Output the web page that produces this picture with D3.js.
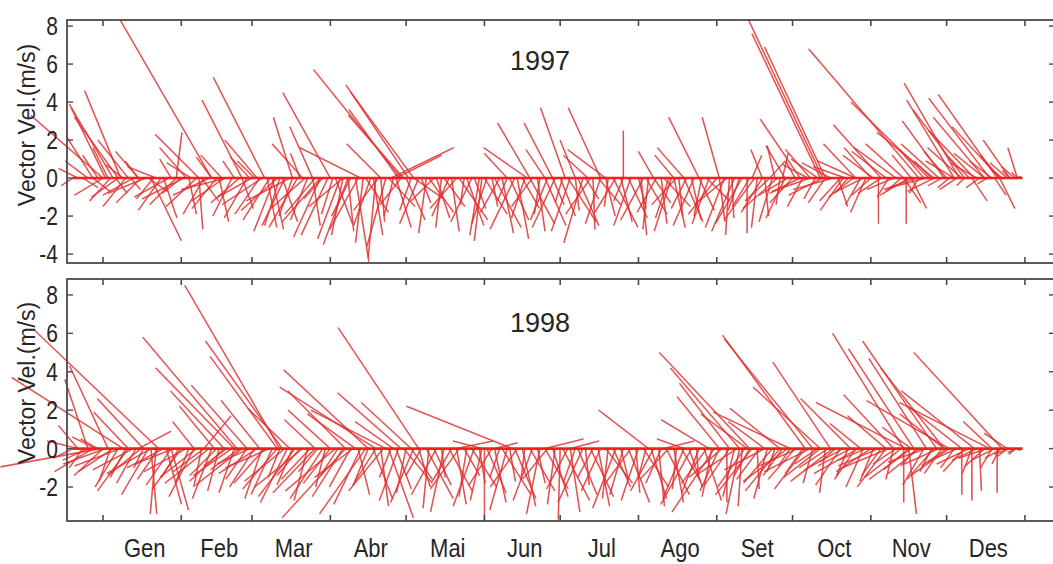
<!DOCTYPE html>
<html>
<head>
<meta charset="utf-8">
<script src="https://cdn.jsdelivr.net/npm/d3@7"></script>
<style>
body { margin: 0; background: #fff; }
svg { display: block; }
text { font-family: "Liberation Sans", Arial, sans-serif; fill: #262626; }
</style>
</head>
<body>
<svg id="chart" width="1053" height="564"></svg>
<script>
/* **************************************************************************
 * Stick plot of the wind velocity vector, 1997 and 1998.
 * Each stick is [day of year, u (m/s), v (m/s)], drawn from (day, 0).
 * **************************************************************************/

var monthNames = ["Gen", "Feb", "Mar", "Abr", "Mai", "Jun", "Jul", "Ago", "Set", "Oct", "Nov", "Des"];
var monthStarts = [0, 31, 59, 90, 120, 151, 181, 212, 243, 273, 304, 334, 365];

var yTicks1997 = [8, 6, 4, 2, 0, -2, -4];
var yTicks1998 = [8, 6, 4, 2, 0, -2];

// the strong events of 1997 (long sticks)
var gusts1997 = [
	[0,-3.8,3.3],[1,-1.9,3.9],[4,-2.2,3.7],[6,-2.3,3.2],[7,-1.9,4.6],[-4,-1.4,2.2],[10,-1.6,2.0],[14,-1.2,1.4],
	[29,0.3,2.4],[38,-2.3,2.3],[43,-4.8,8.3],[33,-1.4,1.6],[47,-1.1,1.2],
	[55,-2.1,4.1],[64,-2.7,5.3],[58,-1.0,1.1],[61,-1.7,2.0],
	[75,-1.0,3.2],[83,-1.2,2.7],[90,-2.5,4.5],[79,-1.6,1.8],[102,-3.2,1.6],
	[118,-4.6,5.7],[121,-3.3,4.9],[123,-3.3,4.5],[117,-2.6,3.6],[119,-2.9,3.3],[114,3.3,1.6],[116,2.4,1.2],[110,-1.8,1.8],
	[100,0.7,-4.4],[108,-0.4,-4.2],[112,-1.0,-3.6],[97,-1.3,-3.5],[19,1.6,-3.3],[38,0.2,-2.7],[67,0.6,-2.7],[70,-0.8,-2.5],[86,-1.4,-3.1],[95,-0.6,-3.0],
	[169,-1.7,2.9],[178,-1.5,2.9],[183,-1.3,3.7],[197,-1.7,3.7],[187,-0.8,2.0],[206,0.0,2.5],[168,-2.3,1.6],[160,-1.2,1.3],[175,-1.0,1.5],[199,-2.0,1.5],[192,-1.3,1.2],[226,-1.0,1.2],[230,-1.4,1.6],
	[236,-1.6,3.2],[244,-0.9,3.2],[218,-0.8,1.4],
	[285,-3.9,8.3],[284,-3.6,7.6],[286,-3.2,6.9],[276,-2.1,3.1],[270,-1.0,1.7],[280,-1.3,1.5],
	[323,-5.8,6.8],[308,-2.5,2.8],[327,-4.1,4.0],[339,-2.9,5.0],[337,-2.5,4.1],[351,-3.2,4.2],[354,-3.1,4.4],[341,-2.7,3.6],[349,-2.7,3.2],[355,-2.5,2.7],[359,-1.4,2.0],[362,-0.5,1.6],[329,-3.0,2.4],[317,-2.0,1.8],[304,-1.4,1.6],[298,-1.7,1.8],[345,-2.4,2.5],[333,-2.2,3.0],
	[318,0.0,-2.4],[320,0.8,-1.6],[302,-0.8,-1.8],[355,0.8,-1.6],[293,-1.2,-1.7],
	[150,-0.4,-3.3],[164,0.6,-3.2],[190,-1.0,-3.4],[213,0.3,-3.0],[225,-0.9,-2.8],[248,-0.2,-3.0]
];

// the day to day sticks of 1997 (short ones around zero)
var fringe1997 = [
	[-12,-0.6,-0.4],[-10,-1.0,0.5],[-8,0.8,-0.5],[-6,-1.2,0.9],[-4,0.9,-0.7],[-2,-0.8,1.2],
	[0,-1.5,-0.9],[2,-0.8,1.6],[3,-1.1,-1.2],[5,0.6,-0.8],[6,-1.4,-1.0],[8,-0.9,0.7],[9,-1.2,-1.5],[11,0.5,-0.6],[12,-1.6,-0.9],[14,-0.7,0.9],[15,-1.3,-1.3],[17,-2.0,-0.8],[18,1.0,-0.7],[20,-0.9,-1.1],[21,-1.5,0.6],[23,-1.2,-1.7],[24,0.7,-2.1],[26,-1.8,-1.0],[27,-0.6,1.0],[29,-1.4,-1.4],
	[31,-1.0,-0.8],[32,-2.2,-1.1],[34,0.4,-1.9],[35,-1.3,0.8],[37,-1.6,-1.5],[39,0.9,-1.2],[40,-1.1,-1.9],[42,-1.9,-0.9],[43,-0.8,1.1],[45,-1.3,-1.6],[46,0.5,-2.3],[48,-1.7,-1.2],[49,-2.4,-0.6],[51,-1.0,-2.0],[52,-0.6,0.9],[54,-1.5,-1.3],[55,0.6,-1.6],[57,-1.2,-2.1],
	[59,-1.8,-1.0],[60,-0.9,0.9],[62,-1.3,-1.9],[63,-2.1,-1.4],[65,0.5,-2.6],[66,-1.4,-2.2],[68,-1.1,-2.8],[69,-1.9,-1.7],[71,0.8,-2.3],[72,-1.2,-2.5],[74,-2.3,-1.2],[75,-0.7,-2.0],[77,-1.5,-2.6],[78,-0.5,1.3],[80,-1.8,-1.6],[81,-0.9,-2.2],[83,0.4,-2.5],[84,-1.6,-1.9],[86,-2.0,-2.3],[87,-1.0,-1.1],[89,-1.4,-3.0],
	[91,-0.6,-1.9],[92,0.9,-2.4],[94,-1.2,-3.2],[95,-1.8,-1.5],[97,0.3,-2.8],[98,-1.0,-2.0],[101,-1.5,-2.7],[103,-0.4,-3.4],[104,1.2,-1.8],[106,-0.9,-2.5],[107,0.5,-3.0],[109,-1.3,-1.7],[110,0.2,-2.3],[113,1.4,-1.5],[115,-0.5,-2.0],[116,0.8,-2.6],[118,-1.1,-1.4],
	[120,1.0,-2.2],[122,-0.6,-1.7],[123,1.6,-1.1],[125,-1.0,-2.4],[126,0.5,-1.3],[128,-0.4,-2.9],[129,1.3,-1.8],[131,-1.2,-1.2],[132,0.7,-2.1],[134,-0.3,-2.6],[135,1.1,-1.5],[137,-0.9,-2.0],[138,0.4,-2.8],[140,-1.4,-1.6],[141,1.5,-2.2],[143,-0.2,-1.4],[144,0.9,-2.5],[146,-1.1,-2.3],[147,0.6,-1.6],[149,-0.5,-3.0],
	[151,1.2,-1.9],[152,-0.8,-2.4],[154,0.3,-1.5],[155,1.4,-2.6],[157,-1.0,-1.8],[158,0.6,-2.9],[160,-0.5,-1.2],[161,1.0,-2.2],[163,-1.3,-2.7],[166,0.9,-1.6],[167,-0.7,-2.1],[169,1.3,-2.4],[170,-1.1,-1.5],[172,0.4,-2.8],[173,-0.3,-1.9],[175,1.1,-2.5],[176,-0.9,-2.2],[178,0.6,-1.4],[179,-1.2,-2.6],
	[181,0.8,-2.0],[182,-0.4,-1.3],[184,1.5,-2.3],[185,-1.0,-2.8],[187,0.2,-1.7],[188,1.1,-2.5],[191,0.7,-1.1],[193,-1.3,-1.9],[194,0.1,-2.7],[196,1.2,-1.4],[197,-0.8,-2.4],[199,0.5,-2.0],[200,-0.2,-1.5],[202,1.3,-2.6],[203,-1.1,-1.8],[205,0.6,-2.3],[206,-0.5,-1.2],[208,1.0,-2.1],[209,-0.9,-2.5],
	[212,0.4,-1.6],[214,-1.2,-2.2],[215,1.1,-1.9],[216,-0.3,-2.7],[218,0.9,-1.3],[219,-1.0,-1.8],[221,0.3,-2.4],[222,1.4,-1.5],[224,-0.7,-2.1],[226,0.6,-2.6],[227,-1.3,-1.4],[228,0.2,-2.0],[230,1.0,-2.3],[231,-0.8,-1.6],[233,0.5,-2.2],[234,-1.1,-2.5],[236,0.8,-1.7],[237,-0.4,-2.0],[239,1.2,-1.2],[240,-0.9,-2.4],
	[243,-1.5,-1.9],[244,0.3,-2.3],[246,-1.0,-2.6],[247,-1.7,-1.4],[249,0.1,-2.1],[250,-1.2,-2.8],[252,-0.6,-1.7],[253,-1.4,-2.4],[255,0.0,-2.9],[256,-0.9,-1.5],[258,-1.6,-2.2],[259,-0.3,-2.6],[261,-1.1,-1.8],[262,0.2,-2.0],[264,-1.3,-1.2],[265,-0.7,-2.3],[267,-1.8,-1.6],[268,-0.2,-1.4],[270,-1.0,-2.1],[271,-1.5,-0.9],
	[257,0.5,1.2],[261,-0.6,1.5],[264,0.8,0.9],[266,-0.4,1.7],[269,0.3,1.3],
	[273,-1.2,-1.3],[274,-0.5,0.9],[276,-1.6,-0.8],[277,-0.8,-1.5],[279,-1.3,0.7],[280,-2.0,-0.7],[282,-0.6,-1.1],[283,-1.4,1.0],[285,-1.8,-0.9],[286,-0.9,-1.3],[288,-1.5,0.8],[289,-2.1,-0.6],[291,0.5,-1.5],[292,-1.1,-1.2],[294,-1.7,0.6],[295,-0.7,-0.8],[297,-1.3,-1.0],[298,-2.0,0.9],[300,-0.8,-1.4],[301,-1.4,-0.7],
	[304,-1.0,-0.9],[305,-1.6,1.2],[307,0.0,-2.4],[308,-1.2,-0.8],[310,-1.8,1.4],[311,-0.6,-1.0],[313,-1.4,-0.6],[314,-2.2,1.6],[316,-0.8,-0.7],[317,0.9,-1.3],[319,-1.5,-0.9],[320,-1.0,1.2],[322,-1.7,-0.6],[323,-0.5,-0.8],[325,-1.3,1.5],[326,-1.9,-0.5],[328,-0.9,0.9],[329,-1.4,-0.7],[331,-2.0,1.8],[332,-0.7,-0.4],
	[334,-1.2,1.4],[335,-0.6,-0.5],[337,-1.5,0.9],[338,-0.9,-0.6],[340,-1.8,1.6],[341,-0.4,-0.4],[343,-1.1,1.1],[344,0.8,-1.2],[346,-1.4,0.8],[347,-0.7,-0.5],[349,-1.6,1.3],[350,-0.5,-0.3],[352,-1.2,0.9],[353,0.6,-0.9],[355,-1.0,1.2],[356,-0.6,0.5],[358,-0.9,0.8],[359,-0.4,0.4],[361,-0.7,0.6],[362,-0.3,0.3],[364,-0.2,0.1]
];

// the strong events of 1998
var gusts1998 = [
	[22,-6.5,6.2],[8,-5.8,3.7],[-6,-1.2,3.6],[2,-2.0,4.3],[10,-1.8,1.9],[-1,-5.2,-0.95],[16,-2.4,2.6],[-10,-1.0,1.2],
	[53,-4.9,5.8],[52,-4.1,4.2],[57,-2.9,3.3],[48,-2.8,3.0],[40,1.4,1.7],[36,-1.1,1.4],[44,-1.8,2.2],
	[70,-4.95,8.5],[71,-4.0,5.6],[69,-3.5,4.8],[62,-2.0,2.5],[74,-2.2,2.1],
	[105,-4.4,4.1],[108,-5.0,3.2],[118,-3.3,2.9],[125,-4.2,6.3],[122,-2.6,2.4],[112,-3.9,2.0],[96,-3.0,3.0],[90,-2.2,2.0],[84,-1.6,1.5],[100,-2.5,1.8],[115,-2.0,1.4],
	[162,-5.5,2.2],[150,-1.5,0.4],[140,1.9,0.4],[155,1.2,0.3],[175,2.0,0.5],[185,1.5,0.4],[216,-2.6,2.0],[222,1.6,0.4],[230,-1.4,0.5],
	[256,-4.7,5.0],[252,-3.6,4.2],[248,-2.6,3.4],[244,-2.2,2.7],[240,-2.5,1.5],[262,-1.9,1.4],
	[281,-4.6,5.7],[278,-4.3,5.9],[288,-3.0,4.5],[272,-4.0,1.9],[284,-3.5,3.2],[296,-2.6,2.6],[300,-1.6,1.3],[310,-2.0,1.7],
	[317,-3.7,6.0],[330,-3.85,5.6],[321,-3.4,5.2],[326,-3.0,4.7],[333,-3.3,4.2],[318,-4.7,2.4],[335,-4.3,2.5],[351,-4.7,2.4],[356,-4.6,5.0],[345,-3.8,3.0],[340,-2.8,2.2],[313,-2.6,2.8],[320,-1.5,1.1],[358,-1.2,0.8],[352,-1.5,1.4],
	[19,0.3,-3.4],[27,0.9,-3.2],[96,-3.3,-3.6],[104,-2.4,-3.4],[113,1.3,-3.6],[242,-2.2,-3.3],[252,-0.7,-3.4],[319,0.4,-3.4],[344,0.0,-2.7],[354,0.0,-2.3]
];

// the day to day sticks of 1998
var fringe1998 = [
	[-12,-1.0,-0.5],[-10,-1.6,0.4],[-8,-0.7,-1.0],[-6,-1.3,-0.6],[-4,-2.0,-1.2],[-2,-0.9,0.5],[-3,-1.2,0.6],
	[0,-1.5,-1.4],[1,-2.2,-0.8],[3,-0.6,-1.7],[4,-1.8,-1.2],[6,-1.2,-2.0],[7,-2.4,-0.9],[9,-0.8,-1.5],[10,-1.6,-2.2],[12,-2.1,-1.1],[13,-1.0,-1.8],[14,1.7,0.9],[15,-1.7,-1.4],[16,-0.5,-1.0],[18,-1.4,-2.4],[19,-2.3,-1.3],[21,-0.3,-3.4],[22,-1.1,-1.6],[24,-1.9,-1.0],[25,0.8,-2.9],[27,-1.3,-1.9],[28,-2.0,-0.8],[30,-0.9,-1.5],
	[31,-1.5,-2.1],[33,-2.2,-1.2],[34,-0.7,-1.8],[36,-1.3,-2.5],[37,-1.9,-1.5],[39,-0.4,-2.0],[40,-1.6,-1.2],[42,-2.3,-1.8],[43,-1.0,-2.6],[45,-1.4,-1.4],[46,-0.6,-2.2],[48,-1.8,-1.7],[49,-1.2,-0.9],[51,-2.0,-1.4],[52,-0.8,-2.3],[54,-1.5,-1.1],[55,-2.4,-1.9],[57,-1.1,-1.6],[58,-1.7,-0.8],
	[60,-1.3,-2.0],[61,-2.0,-1.3],[63,-0.9,-2.6],[64,-1.6,-1.8],[66,-2.3,-1.0],[67,-1.1,-2.4],[69,-1.8,-2.1],[70,-0.6,-1.5],[72,-2.1,-1.7],[73,-1.4,-2.8],[75,-0.8,-1.9],[76,-1.9,-2.5],[78,-1.2,-1.4],[79,-2.5,-2.0],[81,-0.7,-2.7],[82,-1.5,-1.6],[84,-2.2,-2.3],[85,-1.0,-1.2],[87,-1.7,-2.6],[88,-0.5,-2.0],
	[90,-1.4,-1.8],[92,-2.6,-2.2],[93,-0.9,-1.4],[95,-1.6,-2.5],[98,-1.1,-2.0],[99,-2.0,-1.5],[101,0.6,-2.4],[102,-1.4,-2.9],[105,-0.7,-1.7],[107,1.0,-2.6],[108,-1.2,-1.9],[110,0.4,-3.0],[111,-1.8,-2.2],[114,-0.6,-1.5],[116,0.8,-2.1],[117,-1.0,-2.7],[119,1.5,-1.8],
	[120,-0.5,-2.3],[122,1.1,-1.6],[123,-1.2,-2.8],[125,0.6,-2.0],[126,-0.8,-1.4],[128,1.4,-2.6],[129,-0.3,-3.1],[131,0.9,-1.9],[132,-1.3,-2.4],[134,0.2,-1.5],[135,-0.7,-3.3],[137,1.2,-2.2],[138,-1.0,-1.7],[140,0.5,-2.9],[141,-1.5,-2.1],[143,0.8,-1.4],[144,-0.4,-2.5],[146,1.3,-2.0],[147,-1.1,-3.0],[149,0.3,-1.8],[150,-0.6,-2.7],
	[151,0.0,-3.8],[152,1.0,-2.3],[154,-1.2,-1.9],[155,0.6,-2.8],[157,-0.5,-1.5],[158,1.5,-2.4],[160,-0.9,-3.2],[161,0.3,-1.7],[163,1.1,-2.6],[164,-1.4,-2.0],[166,0.7,-3.0],[167,-0.2,-1.6],[169,1.3,-2.2],[170,-1.0,-2.7],[172,0.4,-1.8],[173,-0.7,-3.4],[175,1.2,-2.1],[176,-1.3,-1.6],[178,0.8,-2.5],[179,-0.4,-2.9],
	[181,-0.1,-3.7],[182,1.4,-2.7],[184,-1.1,-2.1],[185,0.5,-3.3],[187,-0.6,-1.7],[188,1.0,-2.4],[190,-1.3,-2.8],[191,0.2,-1.9],[193,1.2,-2.5],[194,-0.8,-1.5],[196,0.6,-3.0],[197,-1.0,-2.2],[199,1.4,-1.8],[200,-0.3,-2.6],[202,0.9,-2.0],[203,-1.2,-3.1],[205,0.4,-1.6],[206,-0.7,-2.4],[208,1.1,-2.8],[209,-1.4,-1.9],[211,0.2,-2.3],
	[212,-0.9,-2.7],[214,1.3,-2.0],[215,-0.4,-1.5],[217,0.8,-2.6],[218,-1.2,-2.2],[220,0.3,-3.0],[221,-0.8,-1.8],[223,1.2,-2.4],[224,-1.5,-1.6],[226,0.5,-2.8],[227,-0.2,-2.1],[229,1.0,-1.7],[230,-1.1,-2.6],[232,0.7,-2.0],[233,-1.6,-2.9],[235,0.1,-1.5],[236,-0.9,-2.3],[238,0.9,-2.7],[239,-1.3,-1.8],[241,-0.5,-2.5],
	[244,-1.0,-2.2],[245,-1.7,-1.5],[247,0.0,-2.8],[248,-1.3,-1.9],[250,-0.6,-2.5],[251,-2.0,-1.3],[253,-0.2,-3.0],[254,-1.4,-2.0],[256,-0.8,-1.4],[257,-1.9,-2.4],[259,0.1,-2.1],[260,-1.2,-1.6],[262,-2.1,-1.1],[263,-0.7,-2.6],[265,-1.5,-1.8],[266,-0.4,-1.2],[268,-1.8,-2.2],[269,-1.0,-1.4],[271,-2.3,-1.7],[272,-0.6,-0.9],
	[255,-2.4,1.8],[268,-2.6,2.1],
	[274,-1.4,-1.6],[275,-2.0,-0.9],[277,-0.9,-1.3],[278,-1.6,-2.1],[280,-2.4,-1.2],[281,-0.5,-1.8],[283,-1.2,-0.8],[284,-1.9,-1.5],[286,-0.3,-2.3],[287,-1.5,-1.0],[289,-2.2,-1.7],[290,-0.8,-0.7],[292,-1.3,-1.9],[293,-2.0,-1.1],[295,-0.6,-1.4],[296,-1.7,-0.9],[298,-1.1,-1.6],[299,-2.3,-1.3],[301,-0.9,-2.0],[302,-1.4,-0.6],
	[304,-1.8,-1.2],[305,-0.7,-1.7],[307,-2.1,-0.9],[308,-1.0,-1.4],[310,-1.5,-2.0],[311,-2.4,-1.0],[313,-0.4,-1.6],[314,-1.2,-0.8],[316,-1.9,-1.5],[317,0.0,-2.8],[319,-1.3,-1.1],[320,-2.2,-1.6],[322,-0.8,-0.9],[323,-1.6,-1.3],[325,-1.1,-1.9],[326,-2.0,-0.7],[328,-0.6,-1.2],[329,-1.4,-1.6],[331,-1.8,-0.8],[332,-0.9,-1.3],[333,-2.3,1.8],
	[334,-1.3,-0.9],[335,-2.0,-1.4],[337,-0.7,-1.0],[338,-1.5,-0.7],[340,0.0,-2.4],[341,-1.1,-1.2],[343,-1.7,-0.8],[344,-0.5,-1.3],[346,-1.3,-0.6],[347,0.1,-2.2],[349,-1.0,-0.9],[350,-1.5,-0.5],[352,-0.6,-1.0],[353,-1.2,-0.6],[355,-0.4,-0.8],[356,-0.9,-0.5],[358,-0.5,-0.4],[359,-0.8,-0.3],[361,-0.3,-0.3],[362,-0.5,-0.2],[364,-0.2,-0.1]
];

var svg = d3.select("#chart");

// time axis shared by both panels (day of year)
var xScale = d3.scaleLinear().domain([-14.25, 376.9]).range([67, 1055]);

var panels = [
	{ title: "1997", sticks: fringe1997.concat(gusts1997), ticks: yTicks1997,
	  top: 20, bottom: 263, vMin: -4.47, vMax: 8.32, labelY: 125, titleY: 70 },
	{ title: "1998", sticks: fringe1998.concat(gusts1998), ticks: yTicks1998,
	  top: 279, bottom: 521, vMin: -3.77, vMax: 8.83, labelY: 383, titleY: 332 }
];

/* **************************************************************************
 * drawPanel
 *
 * Draw one year of the stick plot: the sticks, the frame, the ticks and
 * the texts of that panel.
 ****************************************************************************/
function drawPanel(p)
{
	var yScale = d3.scaleLinear().domain([p.vMin, p.vMax]).range([p.bottom, p.top]);
	// u is drawn with the same pixels per m/s as v
	var k = yScale(0) - yScale(1);

	var g = svg.append("g");

	var days = p.sticks.map(function (d) { return d[0]; });
	g.append("line")
		.attr("x1", xScale(d3.min(days))).attr("x2", xScale(d3.max(days)))
		.attr("y1", yScale(0)).attr("y2", yScale(0))
		.attr("stroke", "#ff1e1e").attr("stroke-width", 2.6);

	// dark core first, then the red stroke over it
	g.selectAll("line.core").data(p.sticks).enter().append("line")
		.attr("class", "core")
		.attr("x1", function (d) { return xScale(d[0]); })
		.attr("y1", yScale(0))
		.attr("x2", function (d) { return xScale(d[0]) + d[1] * k; })
		.attr("y2", function (d) { return yScale(d[2]); })
		.attr("stroke", "#4d2020").attr("stroke-width", 0.8).attr("opacity", 0.6);

	g.selectAll("line.stick").data(p.sticks).enter().append("line")
		.attr("class", "stick")
		.attr("x1", function (d) { return xScale(d[0]); })
		.attr("y1", yScale(0))
		.attr("x2", function (d) { return xScale(d[0]) + d[1] * k; })
		.attr("y2", function (d) { return yScale(d[2]); })
		.attr("stroke", "#f52a2a").attr("stroke-width", 1.6).attr("opacity", 0.65);

	// frame
	g.append("rect")
		.attr("x", 67).attr("y", p.top)
		.attr("width", 1055 - 67).attr("height", p.bottom - p.top)
		.attr("fill", "none").attr("stroke", "#4a4a4a").attr("stroke-width", 1.8);

	// month ticks, inward on top and bottom
	monthStarts.forEach(function (m) {
		var xm = xScale(m);
		g.append("line").attr("x1", xm).attr("x2", xm).attr("y1", p.top).attr("y2", p.top + 6)
			.attr("stroke", "#4a4a4a").attr("stroke-width", 1.6);
		g.append("line").attr("x1", xm).attr("x2", xm).attr("y1", p.bottom).attr("y2", p.bottom - 6)
			.attr("stroke", "#4a4a4a").attr("stroke-width", 1.6);
	});

	// value ticks and labels
	p.ticks.forEach(function (t) {
		var yt = yScale(t);
		g.append("line").attr("x1", 67).attr("x2", 73).attr("y1", yt).attr("y2", yt)
			.attr("stroke", "#4a4a4a").attr("stroke-width", 1.4);
		g.append("line").attr("x1", 1055).attr("x2", 1049).attr("y1", yt).attr("y2", yt)
			.attr("stroke", "#4a4a4a").attr("stroke-width", 1.4);
		g.append("text")
			.attr("transform", "translate(58," + (yt + 9) + ") scale(1,1.2)")
			.attr("text-anchor", "end")
			.attr("font-size", 21)
			.text(t);
	});

	g.append("text")
		.attr("transform", "translate(35," + p.labelY + ") rotate(-90)")
		.attr("text-anchor", "middle")
		.attr("font-size", 23)
		.text("Vector Vel.(m/s)");

	g.append("text")
		.attr("x", 540).attr("y", p.titleY)
		.attr("text-anchor", "middle")
		.attr("font-size", 27)
		.text(p.title);
}

panels.forEach(drawPanel);

// month names under the lower panel
monthNames.forEach(function (name, i) {
	var mid = (monthStarts[i] + monthStarts[i + 1]) / 2 + 1;
	svg.append("text")
		.attr("transform", "translate(" + xScale(mid) + ",557) scale(1,1.15)")
		.attr("text-anchor", "middle")
		.attr("font-size", 22)
		.text(name);
});
</script>
</body>
</html>
